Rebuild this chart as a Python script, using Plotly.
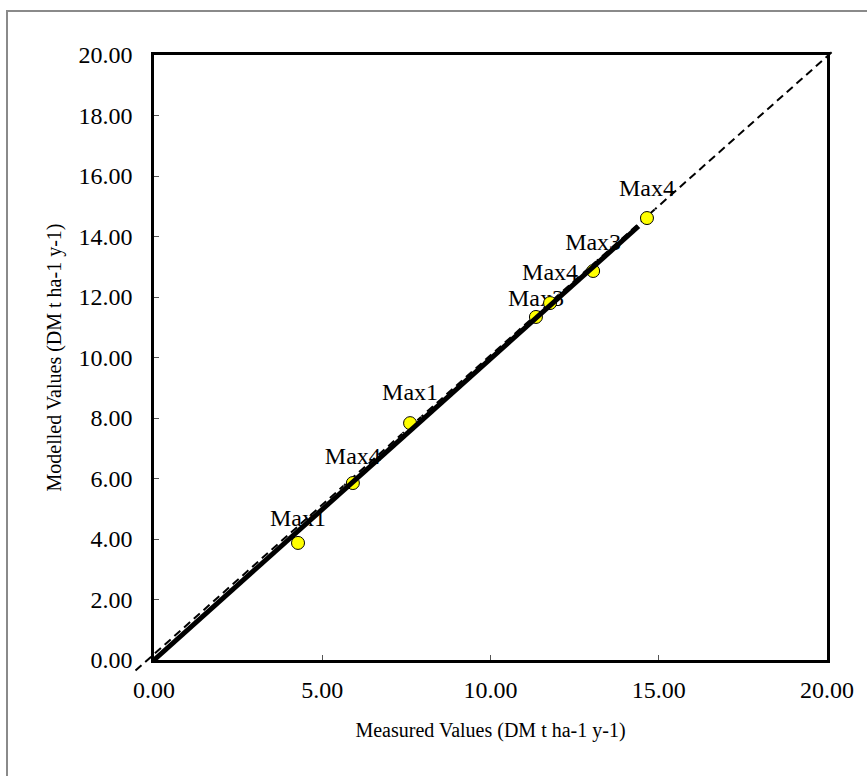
import numpy as np
import plotly.graph_objects as go

# ---- data ----
MEASURED = [4.28, 5.91, 7.61, 11.35, 11.77, 13.05, 14.65]
MODELLED = [3.87, 5.85, 7.83, 11.34, 11.80, 12.86, 14.61]
LABELS = ["Max1", "Max4", "Max1", "Max3", "Max4", "Max3", "Max4"]
TREND_X = [0.0, 14.4]
ONE_TO_ONE_X = [-0.55, 20.15]
ONE_TO_ONE_Y = [-0.35, 20.1]
X_TICKS = [0, 5, 10, 15, 20]
Y_TICKS = [0, 2, 4, 6, 8, 10, 12, 14, 16, 18, 20]
AX_MIN, AX_MAX = 0.0, 20.0

# style: gap between each point and its label (invisible marker size)
LABEL_GAP = [16, 19, 26, 6, 25, 22, 24]

x = np.array(MEASURED)
y = np.array(MODELLED)
slope = float(x @ y / (x @ x))  # linear trend through origin
trend_y = [slope * v for v in TREND_X]

FONT = "Liberation Serif"

W, H = 867, 776
ML, MR, MT, MB = 154, 40, 55, 116

fig = go.Figure()

# labels (drawn first so later markers can cover them)
fig.add_trace(go.Scatter(
    x=MEASURED, y=MODELLED, mode="markers+text", text=LABELS,
    textposition="top center",
    marker=dict(size=LABEL_GAP, color="rgba(0,0,0,0)"),
    textfont=dict(family=FONT, size=24, color="black"),
    cliponaxis=False, showlegend=False, hoverinfo="skip"))

fig.add_trace(go.Scatter(
    x=MEASURED, y=MODELLED, mode="markers",
    marker=dict(size=13, color="#FFFF00", line=dict(color="black", width=1)),
    cliponaxis=False, showlegend=False))

fig.add_trace(go.Scatter(
    x=TREND_X, y=trend_y, mode="lines",
    line=dict(color="black", width=5), showlegend=False, hoverinfo="skip"))


def to_paper(v):
    return (v - AX_MIN) / (AX_MAX - AX_MIN)


# 1:1 dashed reference line (extends slightly beyond plot area)
fig.add_shape(type="line", xref="paper", yref="paper",
              x0=to_paper(ONE_TO_ONE_X[0]), y0=to_paper(ONE_TO_ONE_Y[0]),
              x1=to_paper(ONE_TO_ONE_X[1]), y1=to_paper(ONE_TO_ONE_Y[1]),
              line=dict(color="black", width=2, dash="8px,5px"), layer="below")

# outer chart border (cropped at right and bottom)
pw, ph = W - ML - MR, H - MT - MB
fig.add_shape(type="rect", xref="paper", yref="paper",
              x0=(7 - ML) / pw, x1=(W + 10 - ML) / pw,
              y0=-(H + 10 - MT - ph) / ph, y1=(H - MB - 11) / ph,
              line=dict(color="#8a8a8a", width=2), fillcolor="rgba(0,0,0,0)")

axis_common = dict(
    range=[AX_MIN, AX_MAX], showgrid=False, zeroline=False,
    showline=True, linecolor="black", linewidth=2.5, mirror=True,
    ticks="inside", ticklen=5, tickwidth=1, tickcolor="#555555",
    tickformat=".2f",
    tickfont=dict(family=FONT, size=24, color="black"),
)

fig.update_layout(
    width=W, height=H,
    margin=dict(l=ML, r=MR, t=MT, b=MB),
    paper_bgcolor="white", plot_bgcolor="white",
    xaxis=dict(axis_common, tickvals=X_TICKS, ticklabelstandoff=6,
               title=dict(text="Measured Values (DM t ha-1 y-1)",
                          font=dict(family=FONT, size=20, color="black"),
                          standoff=22)),
    yaxis=dict(axis_common, tickvals=Y_TICKS, ticklabelstandoff=14,
               title=dict(text="Modelled Values (DM t ha-1 y-1)",
                          font=dict(family=FONT, size=20, color="black"),
                          standoff=12)),
    showlegend=False,
)

fig.write_html("out.html",
               config={"displayModeBar": False},
               post_script="document.body.style.margin='0';"
                           "document.body.style.overflow='hidden';")
